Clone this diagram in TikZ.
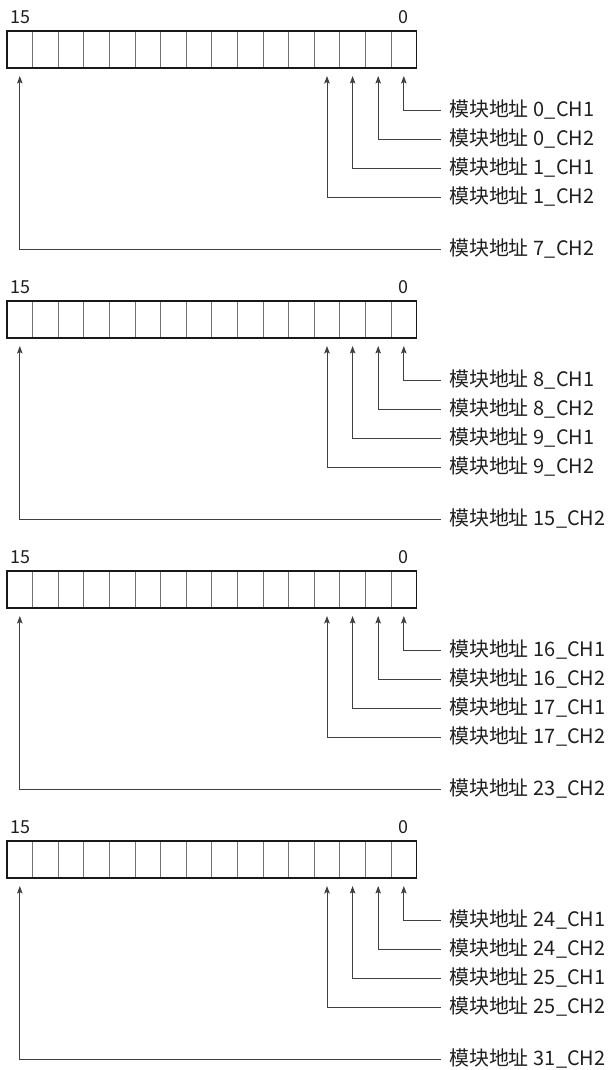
\documentclass[tikz,border=0pt]{standalone}
\usepackage{fontspec}
\setmainfont{Noto Sans CJK SC}
\usetikzlibrary{arrows.meta}
\begin{document}
\begin{tikzpicture}[x=1bp,y=-1bp,
  cell/.style={draw=black!55, line width=0.9bp, minimum width=25.6bp, minimum height=37bp, inner sep=0pt, outer sep=0pt},
  frame/.style={draw=black!90, line width=1.1bp},
  lab/.style={font=\fontsize{20}{21}\selectfont, anchor=west, inner xsep=8bp, inner ysep=0pt, text=black!88},
  num/.style={font=\fontsize{18}{19}\selectfont, inner sep=0pt, text=black!88},
  conn/.style={draw=black!75, line width=0.9bp, -{Stealth[length=7.5bp,width=5.5bp,inset=1.5bp]}, shorten >=8bp}
]
\useasboundingbox (0,0) rectangle (608,1070);
\foreach \b in {0,...,3}{
  \pgfmathsetmacro{\yo}{270*\b}
  \pgfmathtruncatemacro{\aa}{8*\b}
  \pgfmathtruncatemacro{\ab}{8*\b+1}
  \pgfmathtruncatemacro{\ac}{8*\b+7}
  % cells, index 0 at right
  \foreach \i in {0,...,15}{
    \node[cell] (c\b-\i) at ({403.8-25.6*\i}, {\yo+49.5}) {};
  }
  \draw[frame] (c\b-15.north west) rectangle (c\b-0.south east);
  \node[num] (n\b-15) at ({20.5}, {\yo+17}) {15};
  \node[num] (n\b-0) at ({403.8}, {\yo+17}) {0};
  % labels
  \node[lab] (l\b-1) at (441, {\yo+110}) {模块地址\hspace{0.25em}\aa\_CH1};
  \node[lab] (l\b-2) at (441, {\yo+139}) {模块地址\hspace{0.25em}\aa\_CH2};
  \node[lab] (l\b-3) at (441, {\yo+168}) {模块地址\hspace{0.25em}\ab\_CH1};
  \node[lab] (l\b-4) at (441, {\yo+197}) {模块地址\hspace{0.25em}\ab\_CH2};
  \node[lab] (l\b-5) at (441, {\yo+249}) {模块地址\hspace{0.25em}\ac\_CH2};
  % connectors
  \draw[conn] (l\b-1.west) -| (c\b-0.south);
  \draw[conn] (l\b-2.west) -| (c\b-1.south);
  \draw[conn] (l\b-3.west) -| (c\b-2.south);
  \draw[conn] (l\b-4.west) -| (c\b-3.south);
  \draw[conn] (l\b-5.west) -| (c\b-15.south);
}
\end{tikzpicture}
\end{document}
